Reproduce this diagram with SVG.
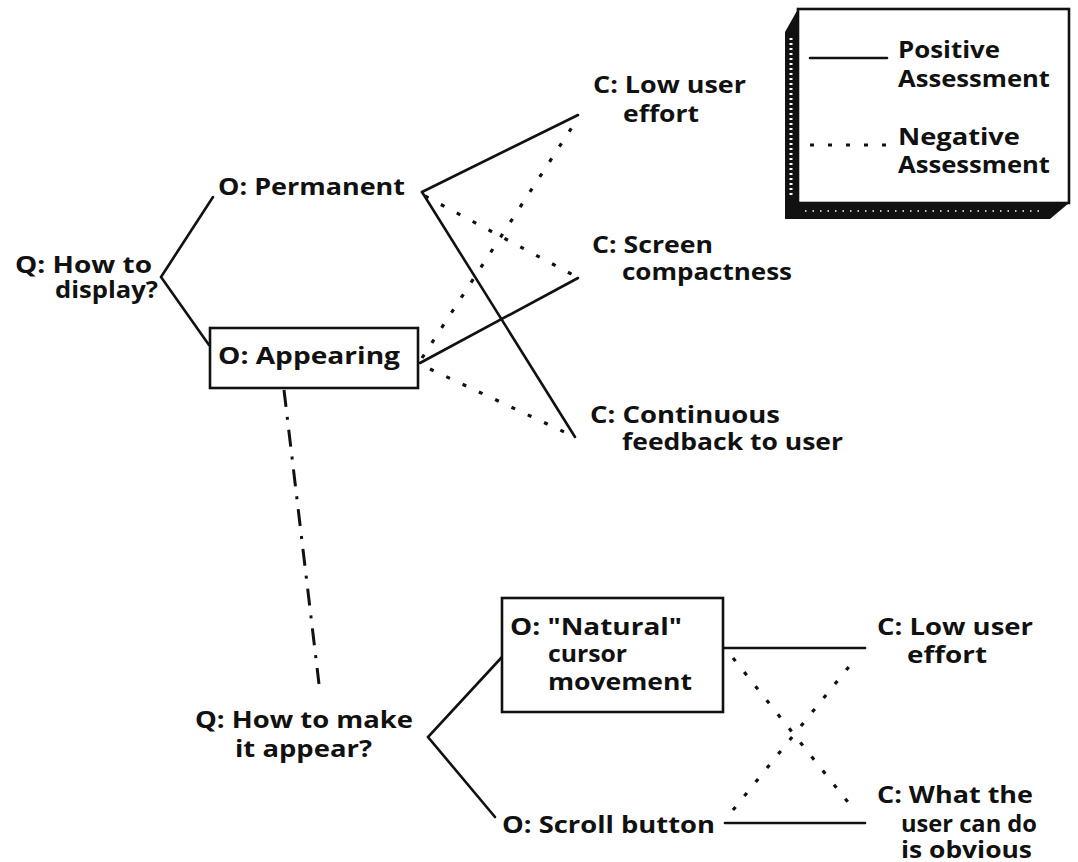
<svg xmlns="http://www.w3.org/2000/svg" width="1078" height="862" viewBox="0 0 1078 862">
  <style>
    text { font-family: "Open Sans", "Liberation Sans", sans-serif; font-weight: 700; font-size: 24px; fill: #111; }
    .solid { stroke: #111; stroke-width: 2.6; fill: none; stroke-linecap: round; }
    .dotted { stroke: #111; stroke-width: 3.2; fill: none; stroke-dasharray: 4 14; stroke-linecap: butt; }
    .dashdot { stroke: #111; stroke-width: 3; fill: none; stroke-dasharray: 17 10 3 10; }
    .box { fill: #fff; stroke: #111; stroke-width: 2.6; }
  </style>

  <rect width="1078" height="862" fill="#fff"/>

  <!-- legend: a raised box with a shaded left and bottom edge -->
  <g id="legend">
    <polygon points="798,9 785,32 785,219 1050,219 1069,203 798,203" fill="#111"/>
    <line x1="791" y1="38" x2="791" y2="198" stroke="#fff" stroke-width="3" stroke-dasharray="2 3"/>
    <line x1="805" y1="211" x2="1045" y2="211" stroke="#fff" stroke-width="1.5" stroke-dasharray="1.5 6"/>
    <rect x="798" y="9" width="271" height="194" class="box"/>
    <line x1="810" y1="58" x2="887" y2="58" class="solid"/>
    <line x1="810" y1="145" x2="887" y2="145" class="dotted"/>
    <text x="898" y="58" textLength="102" lengthAdjust="spacingAndGlyphs">Positive</text>
    <text x="898" y="87" textLength="152" lengthAdjust="spacingAndGlyphs">Assessment</text>
    <text x="898" y="145" textLength="122" lengthAdjust="spacingAndGlyphs">Negative</text>
    <text x="898" y="173" textLength="152" lengthAdjust="spacingAndGlyphs">Assessment</text>
  </g>

  <!-- connectors -->
  <g id="connectors">
    <!-- question 1 to its options -->
    <polyline points="213,197 161,277 209,345" class="solid"/>
    <!-- Permanent to criteria -->
    <line x1="422" y1="192" x2="578" y2="115" class="solid"/>
    <line x1="425" y1="196" x2="575" y2="276" class="dotted"/>
    <line x1="422" y1="192" x2="575" y2="437" class="solid"/>
    <!-- Appearing to criteria -->
    <line x1="422" y1="358" x2="578" y2="118" class="dotted"/>
    <line x1="420" y1="363" x2="578" y2="278" class="solid"/>
    <line x1="430" y1="369" x2="575" y2="437" class="dotted"/>
    <!-- link from Appearing down to question 2 -->
    <line x1="284" y1="390" x2="319" y2="684" class="dashdot"/>
    <!-- question 2 to its options -->
    <polyline points="502,657 428,737 495,817" class="solid"/>
    <!-- options of question 2 to criteria -->
    <line x1="723" y1="648" x2="865" y2="648" class="solid"/>
    <line x1="733" y1="658" x2="855" y2="811" class="dotted"/>
    <line x1="733" y1="810" x2="856" y2="658" class="dotted"/>
    <line x1="725" y1="823" x2="865" y2="823" class="solid"/>
  </g>

  <!-- nodes -->
  <g id="q-display">
    <text x="15" y="273" textLength="137" lengthAdjust="spacingAndGlyphs">Q: How to</text>
    <text x="55" y="298" textLength="103" lengthAdjust="spacingAndGlyphs">display?</text>
  </g>
  <g id="o-permanent">
    <text x="218" y="195" textLength="187" lengthAdjust="spacingAndGlyphs">O: Permanent</text>
  </g>
  <g id="o-appearing">
    <rect x="210" y="328" width="208" height="60" class="box"/>
    <text x="218" y="364" textLength="182" lengthAdjust="spacingAndGlyphs">O: Appearing</text>
  </g>
  <g id="c-low-effort-1">
    <text x="593" y="93" textLength="153" lengthAdjust="spacingAndGlyphs">C: Low user</text>
    <text x="623" y="122" textLength="76" lengthAdjust="spacingAndGlyphs">effort</text>
  </g>
  <g id="c-compactness">
    <text x="592" y="253" textLength="121" lengthAdjust="spacingAndGlyphs">C: Screen</text>
    <text x="622" y="280" textLength="170" lengthAdjust="spacingAndGlyphs">compactness</text>
  </g>
  <g id="c-feedback">
    <text x="590" y="423" textLength="190" lengthAdjust="spacingAndGlyphs">C: Continuous</text>
    <text x="622" y="450" textLength="221" lengthAdjust="spacingAndGlyphs">feedback to user</text>
  </g>
  <g id="q-make-appear">
    <text x="195" y="728" textLength="218" lengthAdjust="spacingAndGlyphs">Q: How to make</text>
    <text x="235" y="757" textLength="137" lengthAdjust="spacingAndGlyphs">it appear?</text>
  </g>
  <g id="o-natural">
    <rect x="502" y="598" width="221" height="114" class="box"/>
    <text x="510" y="635" textLength="172" lengthAdjust="spacingAndGlyphs">O: "Natural"</text>
    <text x="548" y="662" textLength="79" lengthAdjust="spacingAndGlyphs">cursor</text>
    <text x="548" y="690" textLength="144" lengthAdjust="spacingAndGlyphs">movement</text>
  </g>
  <g id="o-scroll">
    <text x="502" y="833" textLength="213" lengthAdjust="spacingAndGlyphs">O: Scroll button</text>
  </g>
  <g id="c-low-effort-2">
    <text x="877" y="635" textLength="156" lengthAdjust="spacingAndGlyphs">C: Low user</text>
    <text x="907" y="663" textLength="80" lengthAdjust="spacingAndGlyphs">effort</text>
  </g>
  <g id="c-obvious">
    <text x="877" y="803" textLength="156" lengthAdjust="spacingAndGlyphs">C: What the</text>
    <text x="901" y="832" textLength="136" lengthAdjust="spacingAndGlyphs">user can do</text>
    <text x="901" y="858" textLength="131" lengthAdjust="spacingAndGlyphs">is obvious</text>
  </g>
</svg>
